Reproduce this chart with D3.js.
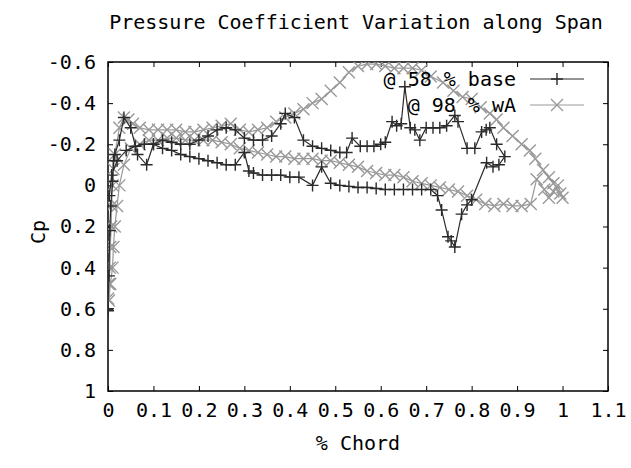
<!DOCTYPE html>
<html>
<head>
<meta charset="utf-8">
<script src="https://cdn.jsdelivr.net/npm/d3@7"></script>
<style>
  body { margin: 0; background: #fff; }
  text { font-family: "DejaVu Sans Mono", monospace; font-size: 20px; fill: #000; }
</style>
</head>
<body>
<div id="vis-container"></div>
<script>
// ------------------------------ DATA ------------------------------ //
// @ 58 % base (dark, "+" markers), loop around the section
const baseChord = [0.0, 0.0, 0.002, 0.004, 0.006, 0.01, 0.012, 0.015, 0.025, 0.035, 0.05, 0.065, 0.085,
  0.1, 0.12, 0.14, 0.16, 0.18, 0.2, 0.22, 0.24, 0.26, 0.28, 0.3, 0.32, 0.34, 0.36, 0.38, 0.39, 0.41,
  0.43, 0.45, 0.47, 0.49, 0.51, 0.525, 0.537, 0.555, 0.57, 0.585, 0.6, 0.61, 0.625, 0.635, 0.645, 0.653,
  0.665, 0.675, 0.686, 0.7, 0.715, 0.73, 0.745, 0.763, 0.77, 0.79, 0.807, 0.822, 0.832, 0.84, 0.855, 0.873,
  0.86, 0.847, 0.833, 0.8, 0.79, 0.778, 0.763, 0.755, 0.748, 0.734, 0.725, 0.71, 0.69, 0.67, 0.65, 0.63,
  0.61, 0.59, 0.57, 0.55, 0.53, 0.51, 0.49, 0.47, 0.45, 0.42, 0.4, 0.38, 0.36, 0.34, 0.32, 0.31, 0.3,
  0.28, 0.26, 0.24, 0.22, 0.2, 0.18, 0.16, 0.14, 0.12, 0.1, 0.08, 0.06, 0.04, 0.02, 0.008, 0.003];
const baseCp = [0.61, 0.6, 0.44, 0.22, 0.1, -0.02, -0.12, -0.15, -0.22, -0.33, -0.28, -0.15, -0.1,
  -0.2, -0.22, -0.21, -0.2, -0.2, -0.22, -0.24, -0.27, -0.28, -0.27, -0.23, -0.22, -0.22, -0.24, -0.3, -0.35, -0.33,
  -0.22, -0.19, -0.18, -0.17, -0.16, -0.16, -0.23, -0.19, -0.19, -0.19, -0.2, -0.21, -0.31, -0.29, -0.3, -0.48,
  -0.28, -0.27, -0.22, -0.28, -0.28, -0.28, -0.29, -0.34, -0.31, -0.18, -0.18, -0.26, -0.27, -0.28, -0.2, -0.14,
  -0.1, -0.09, -0.11, 0.07, 0.095, 0.14, 0.3, 0.27, 0.25, 0.12, 0.05, 0.02, 0.02, 0.02, 0.02, 0.02,
  0.02, 0.015, 0.01, 0.01, 0.005, 0.0, -0.01, -0.09, 0.0, -0.04, -0.04, -0.05, -0.05, -0.05, -0.06, -0.07, -0.16,
  -0.1, -0.1, -0.11, -0.12, -0.13, -0.14, -0.15, -0.17, -0.18, -0.2, -0.2, -0.19, -0.17, -0.12, -0.05, 0.05];

// @ 98 % wA (grey, "x" markers)
const waChord = [0.0, 0.002, 0.004, 0.005, 0.007, 0.008, 0.01, 0.012, 0.015, 0.025, 0.035, 0.045, 0.055,
  0.07, 0.09, 0.11, 0.13, 0.15, 0.17, 0.19, 0.21, 0.23, 0.25, 0.27, 0.29, 0.31, 0.33, 0.35, 0.37, 0.39,
  0.41, 0.43, 0.45, 0.47, 0.49, 0.51, 0.53, 0.55, 0.57, 0.59, 0.61, 0.63, 0.65, 0.67, 0.69, 0.71, 0.737,
  0.76, 0.78, 0.8, 0.82, 0.84, 0.855, 0.87, 0.89, 0.91, 0.928, 0.94, 0.957, 0.97, 0.98, 0.995, 1.0,
  0.99, 0.98, 0.97, 0.96, 0.943, 0.93, 0.91, 0.89, 0.87, 0.85, 0.83, 0.81, 0.79, 0.77, 0.75, 0.73, 0.71,
  0.69, 0.67, 0.65, 0.63, 0.61, 0.59, 0.57, 0.55, 0.53, 0.51, 0.49, 0.47, 0.45, 0.43, 0.41, 0.39, 0.37,
  0.35, 0.33, 0.31, 0.29, 0.27, 0.25, 0.23, 0.21, 0.19, 0.17, 0.15, 0.13, 0.11, 0.09, 0.07, 0.05, 0.035,
  0.025, 0.02, 0.015, 0.012, 0.01, 0.005, 0.002];
const waCp = [0.55, 0.48, 0.4, 0.3, 0.2, 0.1, 0.0, -0.08, -0.15, -0.28, -0.33, -0.32, -0.3,
  -0.28, -0.27, -0.27, -0.27, -0.27, -0.26, -0.26, -0.27, -0.28, -0.29, -0.3, -0.27, -0.26, -0.27, -0.28, -0.31, -0.33,
  -0.35, -0.37, -0.4, -0.42, -0.46, -0.5, -0.55, -0.58, -0.59, -0.59, -0.58, -0.57, -0.57, -0.57, -0.56, -0.53, -0.5,
  -0.46, -0.43, -0.42, -0.38, -0.35, -0.32, -0.28, -0.24, -0.2, -0.17, -0.13, -0.075, -0.04, -0.01, 0.04, 0.06,
  0.0, 0.03, 0.06, 0.02, -0.03, 0.09, 0.1, 0.1, 0.09, 0.1, 0.09, 0.07, 0.05, 0.03, 0.02, 0.01, 0.0,
  -0.01, -0.02, -0.04, -0.05, -0.05, -0.06, -0.07, -0.09, -0.1, -0.11, -0.12, -0.12, -0.13, -0.13, -0.13, -0.14, -0.14,
  -0.15, -0.16, -0.17, -0.18, -0.2, -0.21, -0.22, -0.22, -0.22, -0.22, -0.23, -0.23, -0.22, -0.22, -0.2, -0.18, -0.1,
  0.0, 0.1, 0.2, 0.3, 0.4, 0.48, 0.56];

const xTicks = [0, 0.1, 0.2, 0.3, 0.4, 0.5, 0.6, 0.7, 0.8, 0.9, 1, 1.1];
const xTickLabels = ["0", "0.1", "0.2", "0.3", "0.4", "0.5", "0.6", "0.7", "0.8", "0.9", "1", "1.1"];
const yTicks = [-0.6, -0.4, -0.2, 0, 0.2, 0.4, 0.6, 0.8, 1];
const yTickLabels = ["-0.6", "-0.4", "-0.2", "0", "0.2", "0.4", "0.6", "0.8", "1"];
const seriesNames = ["@ 58 % base", "@ 98 % wA"];

// ------------------------------ SET UP ------------------------------ //
const width = 631;
const height = 468;
const margin = { top: 62, right: 23, bottom: 77, left: 108 };
const tickLen = 5;
const markSize = 6;

const svg = d3.select("#vis-container")
  .append("svg")
  .attr("width", width)
  .attr("height", height);

const xScale = d3.scaleLinear()
  .domain([0, 1.1])
  .range([margin.left, width - margin.right]);

// Cp axis is reversed: negative values at the top
const yScale = d3.scaleLinear()
  .domain([-0.6, 1])
  .range([margin.top, height - margin.bottom]);

// ------------------------------ AXES ------------------------------ //
svg.append("g")
  .attr("transform", `translate(0,${height - margin.bottom})`)
  .call(d3.axisBottom(xScale)
    .tickValues(xTicks)
    .tickFormat((d, i) => xTickLabels[i])
    .tickSize(-tickLen)
    .tickSizeOuter(0)
    .tickPadding(12));

svg.append("g")
  .attr("transform", `translate(0,${margin.top})`)
  .call(d3.axisTop(xScale).tickValues(xTicks).tickFormat("").tickSize(-tickLen).tickSizeOuter(0));

svg.append("g")
  .attr("transform", `translate(${margin.left},0)`)
  .call(d3.axisLeft(yScale)
    .tickValues(yTicks)
    .tickFormat((d, i) => yTickLabels[i])
    .tickSize(-tickLen)
    .tickSizeOuter(0)
    .tickPadding(12));

svg.append("g")
  .attr("transform", `translate(${width - margin.right},0)`)
  .call(d3.axisRight(yScale).tickValues(yTicks).tickFormat("").tickSize(-tickLen).tickSizeOuter(0));

svg.selectAll(".domain").remove();
svg.selectAll(".tick line").attr("stroke", "#000");
svg.selectAll(".tick text")
  .attr("font-family", "DejaVu Sans Mono, monospace")
  .attr("font-size", "20px")
  .attr("fill", "#000");

// Plot border
svg.append("rect")
  .attr("x", margin.left)
  .attr("y", margin.top)
  .attr("width", width - margin.left - margin.right)
  .attr("height", height - margin.top - margin.bottom)
  .attr("fill", "none")
  .attr("stroke", "#000")
  .attr("stroke-width", 1.5);

// Titles
svg.append("text")
  .attr("x", 356)
  .attr("y", 29)
  .attr("text-anchor", "middle")
  .text("Pressure Coefficient Variation along Span");

svg.append("text")
  .attr("x", 358)
  .attr("y", 450)
  .attr("text-anchor", "middle")
  .text("% Chord");

svg.append("text")
  .attr("transform", "translate(45,232) rotate(-90)")
  .attr("text-anchor", "middle")
  .text("Cp");

// ------------------------------ SERIES ------------------------------ //
svg.append("clipPath")
  .attr("id", "plot-clip")
  .append("rect")
  .attr("x", margin.left)
  .attr("y", margin.top)
  .attr("width", width - margin.left - margin.right)
  .attr("height", height - margin.top - margin.bottom);

const series = [
  { name: seriesNames[0], xs: baseChord, ys: baseCp, color: "#2a2a2a", mark: "plus" },
  { name: seriesNames[1], xs: waChord, ys: waCp, color: "#999", mark: "cross" }
];

function markPath(mark, cx, cy, s) {
  if (mark === "plus") {
    return `M${cx - s},${cy}H${cx + s}M${cx},${cy - s}V${cy + s}`;
  }
  return `M${cx - s},${cy - s}L${cx + s},${cy + s}M${cx - s},${cy + s}L${cx + s},${cy - s}`;
}

const line = d3.line()
  .x((d) => xScale(d[0]))
  .y((d) => yScale(d[1]));

// Grey series drawn first so the dark one sits on top
[series[1], series[0]].forEach((s) => {
  const pts = s.xs.map((x, i) => [x, s.ys[i]]);
  const g = svg.append("g").attr("clip-path", "url(#plot-clip)");

  g.append("path")
    .datum(pts)
    .attr("d", line)
    .attr("fill", "none")
    .attr("stroke", s.color)
    .attr("stroke-width", 1.2);

  g.selectAll(".mark")
    .data(pts)
    .enter()
    .append("path")
    .attr("class", "mark")
    .attr("d", (d) => markPath(s.mark, xScale(d[0]), yScale(d[1]), markSize))
    .attr("fill", "none")
    .attr("stroke", s.color)
    .attr("stroke-width", 1.4);
});

// ------------------------------ LEGEND ------------------------------ //
const legendRows = [79, 105];
series.forEach((s, i) => {
  const ly = legendRows[i];
  svg.append("text")
    .attr("x", 516)
    .attr("y", ly)
    .attr("dy", "0.35em")
    .attr("text-anchor", "end")
    .text(s.name);

  svg.append("line")
    .attr("x1", 530)
    .attr("x2", 584)
    .attr("y1", ly)
    .attr("y2", ly)
    .attr("stroke", s.color)
    .attr("stroke-width", 1.2);

  svg.append("path")
    .attr("d", markPath(s.mark, 557, ly, markSize))
    .attr("fill", "none")
    .attr("stroke", s.color)
    .attr("stroke-width", 1.4);
});
</script>
</body>
</html>
